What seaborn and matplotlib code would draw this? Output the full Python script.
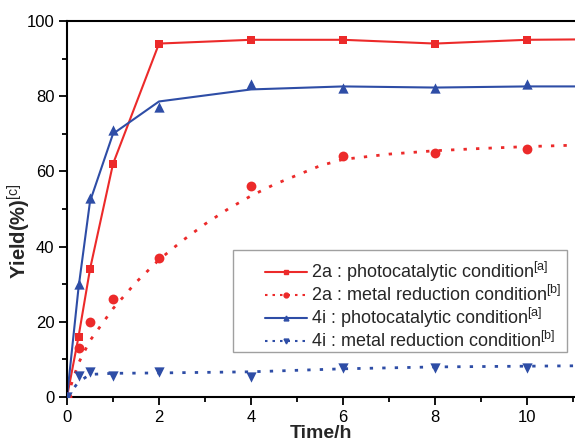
import matplotlib
matplotlib.use("Agg")
import matplotlib.pyplot as plt
from matplotlib.lines import Line2D
from matplotlib.patches import Rectangle
import seaborn as sns

# ---- data ----
t_obs = [0, 0.25, 0.5, 1, 2, 4, 6, 8, 10]

photo_2a = [0, 16, 34, 62, 94, 95, 95, 94, 95]
metal_2a = [0, 13, 20, 26, 37, 56, 64, 65, 66]
photo_4i = [0, 30, 53, 71, 77.2, 83.2, 82.2, 82.3, 83.2]
metal_4i = [0, 5.7, 6.6, 5.6, 6.6, 5.4, 7.8, 7.7, 7.7]

# fitted / guide curves as drawn in the reference
fit_t_2a_photo = [0, 0.25, 0.5, 1, 2, 4, 6, 8, 10, 11.1]
fit_2a_photo = [0, 16, 34, 62, 94, 95, 95, 94, 95, 95.1]

fit_t_2a_metal = [0, 0.25, 0.5, 1, 1.5, 2, 2.5, 3, 3.5, 4, 4.5, 5, 5.5, 6, 7, 8, 9, 10, 11.1]
fit_2a_metal = [0, 9, 15, 23.5, 30.5, 36.5, 41.5, 46, 50, 53.5, 56.5, 59, 61.5, 63.2, 64.6, 65.5, 66.1, 66.6, 67]

fit_t_4i_photo = [0, 0.25, 0.5, 1, 2, 4, 6, 8, 10, 11.1]
fit_4i_photo = [0, 29, 52, 70, 78.6, 81.8, 82.6, 82.3, 82.6, 82.6]

fit_t_4i_metal = [0, 0.25, 0.5, 1, 2, 4, 6, 8, 10, 11.1]
fit_4i_metal = [0, 4, 6, 6.3, 6.4, 6.7, 7.5, 8.0, 8.2, 8.3]

labels = [
    "2a : photocatalytic condition$^{[a]}$",
    "2a : metal reduction condition$^{[b]}$",
    "4i : photocatalytic condition$^{[a]}$",
    "4i : metal reduction condition$^{[b]}$",
]
x_ticks = [0, 2, 4, 6, 8, 10]
y_ticks = [0, 20, 40, 60, 80, 100]

RED = "#EC2A2A"
BLUE = "#2E4DA6"

sns.set_theme(style="ticks")
plt.rcParams["font.family"] = ["Liberation Sans", "DejaVu Sans"]
plt.rcParams["mathtext.fontset"] = "custom"
plt.rcParams["mathtext.rm"] = "Liberation Sans"
plt.rcParams["mathtext.it"] = "Liberation Sans"
plt.rcParams["mathtext.bf"] = "Liberation Sans:bold"

W, H = 575, 444
fig = plt.figure(figsize=(W / 100, H / 100), dpi=100)
ax = fig.add_axes([67 / W, 1 - 397 / H, 1 - 67 / W, (397 - 21) / H])

dot = (0, (1.2, 3.3))

sns.lineplot(x=fit_t_2a_photo, y=fit_2a_photo, color=RED, lw=1.5, ax=ax, sort=False)
sns.lineplot(x=fit_t_2a_metal, y=fit_2a_metal, color=RED, lw=2.0, ax=ax, sort=False,
             linestyle=dot)
sns.lineplot(x=fit_t_4i_photo, y=fit_4i_photo, color=BLUE, lw=1.5, ax=ax, sort=False)
sns.lineplot(x=fit_t_4i_metal, y=fit_4i_metal, color=BLUE, lw=2.0, ax=ax, sort=False,
             linestyle=dot)

sns.scatterplot(x=t_obs, y=photo_2a, marker="s", s=40, color=RED, linewidth=0, ax=ax, zorder=3)
sns.scatterplot(x=t_obs, y=metal_2a, marker="o", s=50, color=RED, linewidth=0, ax=ax, zorder=3)
sns.scatterplot(x=t_obs, y=photo_4i, marker="^", s=55, color=BLUE, linewidth=0, ax=ax, zorder=3)
sns.scatterplot(x=t_obs, y=metal_4i, marker="v", s=55, color=BLUE, linewidth=0, ax=ax, zorder=3)

ax.set_xlim(0, 11.04)
ax.set_ylim(0, 100)
ax.set_xticks(x_ticks)
ax.set_yticks(y_ticks)
ax.set_xticks([1, 3, 5, 7, 9, 11], minor=True)
ax.set_yticks([10, 30, 50, 70, 90], minor=True)
ax.tick_params(which="major", direction="out", length=6, width=1.3, labelsize=12,
               colors="black", pad=3)
ax.tick_params(which="minor", direction="out", length=3.5, width=1.3, colors="black")
for s in ["left", "bottom", "top"]:
    ax.spines[s].set_linewidth(1.5)
    ax.spines[s].set_color("black")
ax.spines["right"].set_visible(False)

ax.set_xlabel("Time/h", fontsize=14, fontweight="bold", labelpad=0)
ax.set_ylabel("Yield(%)$^{[c]}$", fontsize=14.5, fontweight="bold")
ax.yaxis.set_label_coords(-0.066, 0.44)

# legend frame (drawn in figure pixels)
frame = Rectangle((233 / W, 1 - 352 / H), (567 - 233) / W, (352 - 250) / H,
                  transform=fig.transFigure, facecolor="white", edgecolor="#A0A0A0",
                  linewidth=1.0, zorder=4)
fig.add_artist(frame)

handles = [
    Line2D([], [], color=RED, lw=1.5, marker="s", markersize=3.5),
    Line2D([], [], color=RED, lw=1.5, linestyle=(0, (1.2, 2.4)), marker="o", markersize=3.5),
    Line2D([], [], color=BLUE, lw=1.5, marker="^", markersize=3.5),
    Line2D([], [], color=BLUE, lw=1.5, linestyle=(0, (1.2, 2.4)), marker="v", markersize=3.5),
]
leg = fig.legend(handles, labels, loc="upper left",
                 bbox_to_anchor=(265 / W, 1 - 260 / H),
                 fontsize=13, frameon=False,
                 handlelength=2.3, handletextpad=0.25, labelspacing=0.05, borderpad=0,
                 borderaxespad=0)
leg.set_zorder(5)

fig.savefig("out.png", dpi=100)
